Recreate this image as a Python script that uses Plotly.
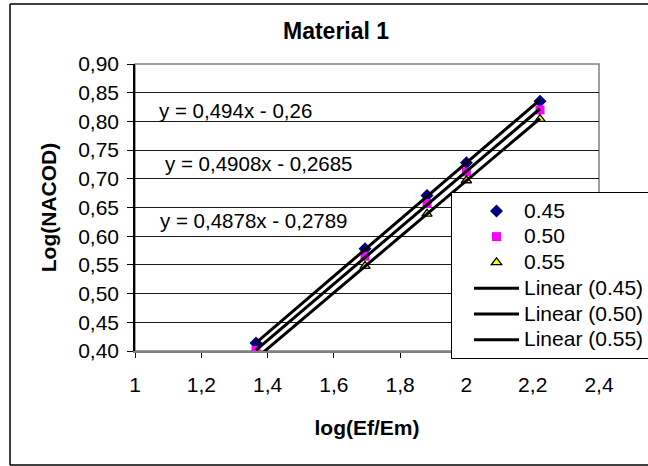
import plotly.graph_objects as go

# ---- data ----
x_vals = [1.365, 1.694, 1.881, 2.000, 2.222]
series_names = ["0.45", "0.50", "0.55"]
y_045 = [0.414, 0.578, 0.671, 0.728, 0.835]
y_050 = [0.401, 0.565, 0.657, 0.712, 0.820]
y_055 = [0.387, 0.548, 0.639, 0.697, 0.804]
slopes = [0.494, 0.4908, 0.4878]
intercepts = [-0.26, -0.2685, -0.2789]
equations = ["y = 0,494x - 0,26", "y = 0,4908x - 0,2685", "y = 0,4878x - 0,2789"]
y_ticks = [0.40, 0.45, 0.50, 0.55, 0.60, 0.65, 0.70, 0.75, 0.80, 0.85, 0.90]
x_ticks = [1, 1.2, 1.4, 1.6, 1.8, 2, 2.2, 2.4]

FONT = "Liberation Sans, Arial, sans-serif"
W, H = 648, 466
L, R, T, B = 135, 599, 64, 351  # plot area in pixels
pw, ph = R - L, B - T

def px(xp):
    return (xp - L) / pw

def py(yp):
    return (B - yp) / ph

def legend_label(s):
    return f'<span style="font-size:21px">{s}</span>'

fig = go.Figure()

marker_styles = [
    dict(symbol="diamond", size=10, color="#000080", line=dict(width=0)),
    dict(symbol="square", size=9, color="#FF00FF", line=dict(width=0)),
    dict(symbol="triangle-up", size=9, color="#FFFF00", line=dict(width=1.3, color="#000000")),
]
ys = [y_045, y_050, y_055]
for name, yv, ms in zip(series_names, ys, marker_styles):
    fig.add_trace(go.Scatter(x=x_vals, y=yv, mode="markers", name=legend_label(name), marker=ms))

xmin, xmax = min(x_vals), max(x_vals)
for name, a, b in zip(series_names, slopes, intercepts):
    fig.add_trace(go.Scatter(
        x=[xmin, xmax], y=[a * xmin + b, a * xmax + b], mode="lines",
        name=legend_label(f"Linear ({name})"), line=dict(color="#000000", width=3)))

# equation labels
eq_pos = [(157, 110), (163, 163), (158, 220)]
annotations = []
for txt, (ex, ey) in zip(equations, eq_pos):
    annotations.append(dict(text=txt, xref="paper", yref="paper", x=px(ex), y=py(ey),
                            xanchor="left", yanchor="middle", showarrow=False,
                            font=dict(family=FONT, size=20.5, color="#000")))
# title
annotations.append(dict(text="<b>Material 1</b>", xref="paper", yref="paper",
                        x=px(335.5), y=py(31), xanchor="center", yanchor="middle",
                        showarrow=False, font=dict(family=FONT, size=23, color="#000")))

# outer chart border: left, top, bottom edges (right edge lies beyond the visible area)
bx0, bx1, by0, by1 = px(10), px(720), py(465), py(4)
border = dict(color="#000000", width=1.5)
shapes = [
    dict(type="line", xref="paper", yref="paper", x0=bx0, x1=bx0, y0=by0, y1=by1, line=border, layer="below"),
    dict(type="line", xref="paper", yref="paper", x0=bx0, x1=bx1, y0=by1, y1=by1, line=border, layer="below"),
    dict(type="line", xref="paper", yref="paper", x0=bx0, x1=bx1, y0=by0, y1=by0, line=border, layer="below"),
    # plot area border
    dict(type="rect", xref="paper", yref="paper", x0=0, x1=1, y0=0, y1=1,
         line=dict(color="#808080", width=1.5), layer="below"),
]

fig.update_layout(
    width=W, height=H,
    margin=dict(l=L, r=W - R, t=T, b=H - B, pad=0, autoexpand=False),
    paper_bgcolor="white", plot_bgcolor="white",
    separators=", ",
    font=dict(family=FONT, size=21, color="#000"),
    showlegend=True,
    legend=dict(x=px(451), y=py(192), xanchor="left", yanchor="top",
                bgcolor="white", bordercolor="#000000", borderwidth=1,
                font=dict(family=FONT, size=17.5, color="#000"), itemwidth=45,
                indentation=17, tracegroupgap=0),
    annotations=annotations,
    shapes=shapes,
    xaxis=dict(range=[1, 2.4], tickvals=x_ticks, tickformat="", showgrid=False,
               showline=True, linecolor="#808080", linewidth=1.5,
               ticks="outside", ticklen=5, tickcolor="#000", zeroline=False,
               tickfont=dict(family=FONT, size=21), ticklabelstandoff=9,
               title=dict(text="<b>log(Ef/Em)</b>", font=dict(family=FONT, size=21), standoff=25)),
    yaxis=dict(range=[0.40, 0.90], tickvals=y_ticks, tickformat=".2f", showgrid=True,
               gridcolor="#1a1a1a", gridwidth=1,
               showline=True, linecolor="#000000", linewidth=1.5,
               ticks="outside", ticklen=6, tickcolor="#000", zeroline=False,
               tickfont=dict(family=FONT, size=21), ticklabelstandoff=4,
               title=dict(text="<b>Log(NACOD)</b>", font=dict(family=FONT, size=21), standoff=16)),
)

fig.write_html("out.html")
